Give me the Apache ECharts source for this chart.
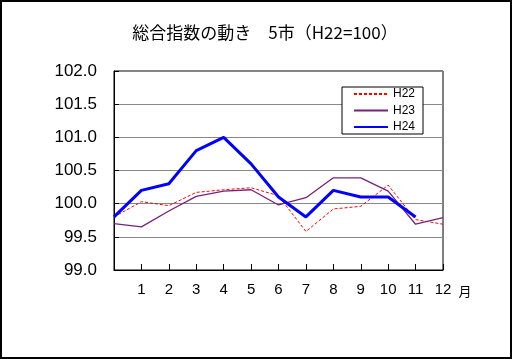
<!DOCTYPE html>
<html>
<head>
<meta charset="utf-8">
<script src="https://cdn.jsdelivr.net/npm/echarts@6/dist/echarts.min.js"></script>
<style>html,body{margin:0;padding:0;background:#fff;}#c{width:512px;height:359px;}</style>
</head>
<body>
<div id="c"></div>
<script>
var categories = ['', '1', '2', '3', '4', '5', '6', '7', '8', '9', '10', '11', '12'];
var seriesNames = ['H22', 'H23', 'H24'];
var h22 = [99.8, 100.03, 99.97, 100.17, 100.21, 100.24, 100.12, 99.58, 99.92, 99.96, 100.28, 99.76, 99.69];
var h23 = [99.7, 99.65, 99.89, 100.11, 100.19, 100.21, 99.98, 100.09, 100.39, 100.39, 100.19, 99.69, 99.79];
var h24 = [99.8, 100.2, 100.3, 100.8, 101.0, 100.6, 100.1, 99.8, 100.2, 100.1, 100.1, 99.8];
var titleText = '総合指数の動き　5市（H22=100）';
var monthUnit = '月';

var chart = echarts.init(document.getElementById('c'), null, {renderer: 'canvas'});
chart.setOption({
  animation: false,
  backgroundColor: '#fff',
  title: {
    text: titleText,
    left: 260, top: 19, textAlign: 'center',
    textStyle: {fontFamily: 'Noto Sans CJK JP', fontSize: 17, fontWeight: 'normal', color: '#000'}
  },
  grid: {left: 114, right: 69, top: 71, bottom: 89, show: true, borderColor: '#000', borderWidth: 1, backgroundColor: 'transparent'},
  legend: {
    data: seriesNames,
    orient: 'vertical',
    left: 342, top: 87,
    padding: [1, 8, 1, 11],
    itemWidth: 34, itemHeight: 12, itemGap: 4.5, itemTextGap: 3,
    borderColor: '#000', borderWidth: 1,
    backgroundColor: '#fff',
    itemStyle: {opacity: 0},
    textStyle: {fontFamily: 'Liberation Sans', fontSize: 12, color: '#000'}
  },
  xAxis: {
    type: 'category',
    data: categories,
    boundaryGap: false,
    axisLine: {lineStyle: {color: '#000', width: 1}},
    axisTick: {inside: true, length: 6, lineStyle: {color: '#000'}},
    axisLabel: {fontFamily: 'Liberation Sans', fontSize: 15, color: '#000', margin: 12},
    splitLine: {show: false}
  },
  yAxis: {
    type: 'value',
    min: 99.0, max: 102.0, interval: 0.5,
    axisLine: {show: true, lineStyle: {color: '#000', width: 1}},
    axisTick: {show: true, inside: true, length: 5, lineStyle: {color: '#000'}},
    axisLabel: {fontFamily: 'Liberation Sans', fontSize: 17, color: '#000', margin: 17,
      formatter: function (v) { return v.toFixed(1); }},
    splitLine: {show: true, lineStyle: {color: '#888', width: 1}}
  },
  series: [
    {name: 'H22', type: 'line', data: h22, symbol: 'none', color: '#ff0000',
      lineStyle: {color: '#ff0000', width: 1, type: [3, 2]}},
    {name: 'H23', type: 'line', data: h23, symbol: 'none', color: '#7a207a',
      lineStyle: {color: '#7a207a', width: 1.3}},
    {name: 'H24', type: 'line', data: h24, symbol: 'none', color: '#0000ff',
      lineStyle: {color: '#0000ff', width: 3}}
  ],
  graphic: [
    {type: 'rect', shape: {x: 1, y: 1, width: 510, height: 357}, style: {fill: 'none', stroke: '#000', lineWidth: 2}, silent: true, z: 100},
    {type: 'text', x: 465, y: 291, style: {text: monthUnit, fontFamily: 'Noto Sans CJK JP', fontSize: 13, fill: '#000', textAlign: 'center', textVerticalAlign: 'middle'}}
  ]
});
</script>
</body>
</html>
